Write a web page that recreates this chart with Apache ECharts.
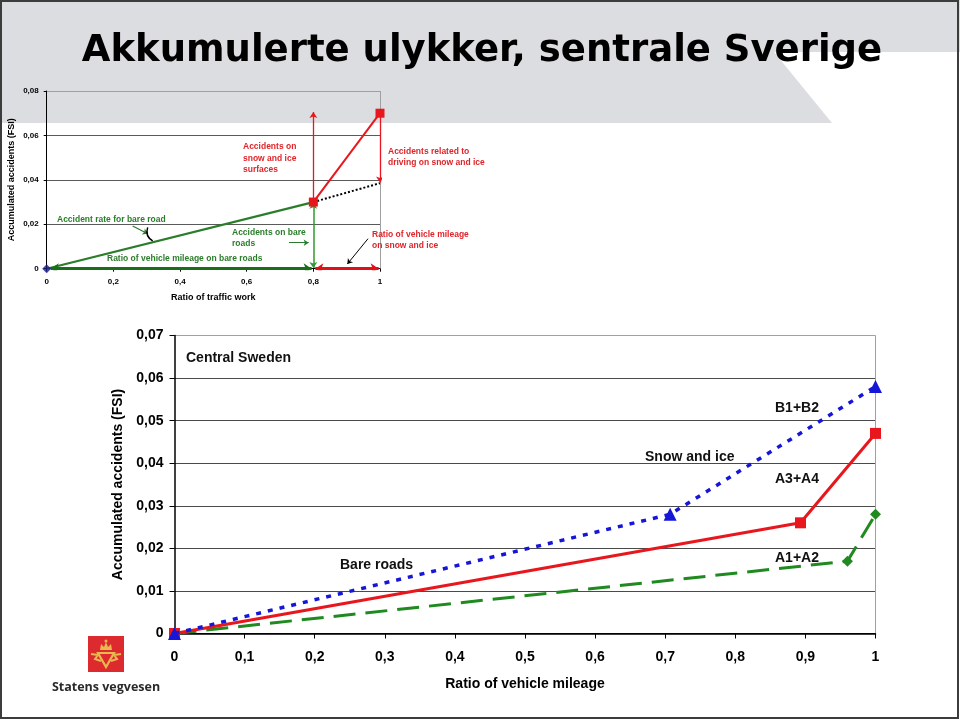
<!DOCTYPE html>
<html><head><meta charset="utf-8">
<script src="https://cdn.jsdelivr.net/npm/echarts/dist/echarts.min.js"></script>
<style>html,body{margin:0;padding:0;background:#fff}#c{width:960px;height:720px}</style>
</head><body><div id="c"></div>
<script>
// ---------- DATA ----------
// Top (schematic) chart
const topXTicks = [0, 0.2, 0.4, 0.6, 0.8, 1];
const topYTicks = [0, 0.02, 0.04, 0.06, 0.08];
const topBareRoad = [[0, 0], [0.8, 0.03]];
const topSnowIce = [[0.8, 0.03], [1, 0.07]];
const topExtrapolated = [[0.8, 0.03], [1, 0.0385]];
const topOrigin = [[0, 0]];
const arrowSnowSurface = [[0.8, 0.031], [0.8, 0.0705]];
const arrowSnowDriving = [[1, 0.069], [1, 0.0388]];
const arrowBareAccidents = [[0.8, 0.0003], [0.8, 0.0297]];
const arrowBareMileage = [[0.012, 0], [0.795, 0]];
const arrowSnowMileage = [[0.806, 0], [0.996, 0]];
const pointerRate = [[0.258, 0.0192], [0.303, 0.0157]];
const pointerBareAcc = [[0.727, 0.0117], [0.786, 0.0117]];
const pointerSnowMileage = [[0.964, 0.0135], [0.902, 0.0021]];
const bracketRate = [[0.303, 0.0186], [0.318, 0.0125]];

// Bottom chart
const botXTicks = [0, 0.1, 0.2, 0.3, 0.4, 0.5, 0.6, 0.7, 0.8, 0.9, 1];
const botYTicks = [0, 0.01, 0.02, 0.03, 0.04, 0.05, 0.06, 0.07];
const seriesB1B2 = [[0, 0], [0.707, 0.028], [1, 0.058]];
const seriesA3A4 = [[0, 0], [0.893, 0.026], [1, 0.047]];
const seriesA1A2 = [[0, 0], [0.96, 0.017], [1, 0.028]];

// ---------- HELPERS ----------
const fmt = (v, d) => v === 0 ? '0' : (v === 1 ? '1' : v.toFixed(d).replace('.', ','));
const AR = 'Liberation Sans, Arial, sans-serif';
const GREEN = '#2a7d2a', GREEN_L = '#2f9a2f', RED = '#e8171d', RED_T = '#e0242a';
const BLUE = '#1616d8', GREEN_B = '#1f8a1f';

function arrowSeries(coords, color, width, symbols, size) {
  return {
    type: 'lines', coordinateSystem: 'cartesian2d', xAxisIndex: 0, yAxisIndex: 0,
    silent: true, symbol: symbols, symbolSize: size, z: 4,
    lineStyle: { color: color, width: width, opacity: 1, type: 'solid' },
    data: [{ coords: coords }]
  };
}
function txt(x, y, s, size, color, extra) {
  return Object.assign({
    type: 'text', x: x, y: y, z: 50,
    style: { text: s, fontSize: size, fontWeight: 'bold', fontFamily: AR, fill: color, textVerticalAlign: 'middle' }
  }, extra || {});
}

const chart = echarts.init(document.getElementById('c'), null, { renderer: 'canvas' });

const gold = '#e9b84e';
const option = {
  backgroundColor: '#fff',
  animation: false,
  grid: [
    { left: 46.7, right: 580, top: 91, bottom: 451.3, containLabel: false },
    { left: 174.5, right: 84.5, top: 335.5, bottom: 86.5, containLabel: false }
  ],
  xAxis: [
    {
      gridIndex: 0, type: 'value', min: topXTicks[0], max: topXTicks[topXTicks.length - 1], interval: 0.2,
      name: 'Ratio of traffic work', nameLocation: 'middle', nameGap: 24,
      nameTextStyle: { fontSize: 9, fontWeight: 'bold', fontFamily: AR, color: '#000' },
      axisLine: { lineStyle: { color: '#000', width: 1 } },
      axisTick: { show: true, length: 3, lineStyle: { color: '#000' } },
      axisLabel: { fontSize: 8, fontWeight: 'bold', fontFamily: AR, color: '#000', margin: 9, formatter: v => fmt(v, 1) },
      splitLine: { show: true, lineStyle: { color: ['rgba(0,0,0,0)', 'rgba(0,0,0,0)', 'rgba(0,0,0,0)', 'rgba(0,0,0,0)', 'rgba(0,0,0,0)', '#a0a0a0'], width: 1 } }
    },
    {
      gridIndex: 1, type: 'value', min: botXTicks[0], max: botXTicks[botXTicks.length - 1], interval: 0.1,
      name: 'Ratio of vehicle mileage', nameLocation: 'middle', nameGap: 44,
      nameTextStyle: { fontSize: 14, fontWeight: 'bold', fontFamily: AR, color: '#000' },
      axisLine: { lineStyle: { color: '#000', width: 1.5 } },
      axisTick: { show: true, length: 5, lineStyle: { color: '#000', width: 1 } },
      axisLabel: { fontSize: 14, fontWeight: 'bold', fontFamily: AR, color: '#000', margin: 17, formatter: v => fmt(v, 1) },
      splitLine: { show: true, lineStyle: { color: ['rgba(0,0,0,0)', 'rgba(0,0,0,0)', 'rgba(0,0,0,0)', 'rgba(0,0,0,0)', 'rgba(0,0,0,0)', 'rgba(0,0,0,0)', 'rgba(0,0,0,0)', 'rgba(0,0,0,0)', 'rgba(0,0,0,0)', 'rgba(0,0,0,0)', '#a0a0a0'], width: 1 } }
    }
  ],
  yAxis: [
    {
      gridIndex: 0, type: 'value', min: topYTicks[0], max: topYTicks[topYTicks.length - 1], interval: 0.02,
      name: 'Accumulated accidents (FSI)', nameLocation: 'middle', nameGap: 31, nameRotate: 90,
      nameTextStyle: { fontSize: 9, fontWeight: 'bold', fontFamily: AR, color: '#000' },
      axisLine: { show: true, lineStyle: { color: '#000', width: 1 } },
      axisTick: { show: true, length: 3, lineStyle: { color: '#000' } },
      axisLabel: { fontSize: 8, fontWeight: 'bold', fontFamily: AR, color: '#000', margin: 8, formatter: v => fmt(v, 2) },
      splitLine: { show: true, lineStyle: { color: ['#000', '#5a5a5a', '#5a5a5a', '#5a5a5a', '#a0a0a0'], width: 1 } }
    },
    {
      gridIndex: 1, type: 'value', min: botYTicks[0], max: botYTicks[botYTicks.length - 1], interval: 0.01,
      name: 'Accumulated accidents (FSI)', nameLocation: 'middle', nameGap: 48, nameRotate: 90,
      nameTextStyle: { fontSize: 14, fontWeight: 'bold', fontFamily: AR, color: '#000' },
      axisLine: { show: true, lineStyle: { color: '#000', width: 1.5 } },
      axisTick: { show: true, length: 5, lineStyle: { color: '#000' } },
      axisLabel: { fontSize: 14, fontWeight: 'bold', fontFamily: AR, color: '#000', margin: 11, formatter: v => fmt(v, 2) },
      splitLine: { show: true, lineStyle: { color: ['#000', '#4a4a4a', '#4a4a4a', '#4a4a4a', '#4a4a4a', '#4a4a4a', '#4a4a4a', '#a0a0a0'], width: 1.2 } }
    }
  ],
  series: [
    // ---- top chart ----
    { type: 'line', xAxisIndex: 0, yAxisIndex: 0, data: topExtrapolated, symbol: 'none', z: 3,
      lineStyle: { color: '#000', width: 2, type: [2, 2] } },
    { type: 'line', xAxisIndex: 0, yAxisIndex: 0, data: topBareRoad, symbol: 'none', z: 3,
      lineStyle: { color: GREEN, width: 2.2 } },
    arrowSeries(arrowBareAccidents, GREEN_L, 1.5, ['arrow', 'arrow'], 6),
    arrowSeries(arrowSnowSurface, RED, 1.3, ['none', 'arrow'], 6),
    arrowSeries(arrowSnowDriving, RED, 1.3, ['none', 'arrow'], 6),
    arrowSeries(arrowBareMileage, '#1a6e1a', 3, ['arrow', 'arrow'], 8),
    arrowSeries(arrowSnowMileage, '#e01018', 3, ['arrow', 'arrow'], 8),
    arrowSeries(pointerRate, GREEN, 1.2, ['none', 'arrow'], 5),
    arrowSeries(pointerBareAcc, GREEN, 1.2, ['none', 'arrow'], 5),
    arrowSeries(pointerSnowMileage, '#000', 1, ['none', 'arrow'], 5),
    { type: 'lines', coordinateSystem: 'cartesian2d', xAxisIndex: 0, yAxisIndex: 0, silent: true, z: 4,
      lineStyle: { color: '#000', width: 1.5, curveness: -0.4, opacity: 1 }, data: [{ coords: bracketRate }] },
    { type: 'line', xAxisIndex: 0, yAxisIndex: 0, data: topSnowIce, symbol: 'rect', symbolSize: 9, z: 5,
      lineStyle: { color: RED, width: 2 }, itemStyle: { color: RED } },
    { type: 'scatter', xAxisIndex: 0, yAxisIndex: 0, data: topOrigin, symbol: 'diamond', symbolSize: 9, z: 6,
      itemStyle: { color: '#1b1b8a' } },
    // ---- bottom chart ----
    { name: 'A1+A2', type: 'line', xAxisIndex: 1, yAxisIndex: 1, data: seriesA1A2, symbol: 'diamond', symbolSize: 11, z: 3,
      lineStyle: { color: GREEN_B, width: 3, type: [22, 10] }, itemStyle: { color: GREEN_B } },
    { name: 'A3+A4', type: 'line', xAxisIndex: 1, yAxisIndex: 1, data: seriesA3A4, symbol: 'rect', symbolSize: 11, z: 4,
      lineStyle: { color: RED, width: 3 }, itemStyle: { color: RED } },
    { name: 'B1+B2', type: 'line', xAxisIndex: 1, yAxisIndex: 1, data: seriesB1B2, symbol: 'triangle', symbolSize: 13, z: 5,
      lineStyle: { color: BLUE, width: 3.5, type: [5, 7] }, itemStyle: { color: BLUE } }
  ],
  graphic: [
    // background band and frame
    { type: 'polygon', z: -10, silent: true,
      shape: { points: [[0, 0], [960, 0], [960, 52], [774, 52], [832, 123], [0, 123]] },
      style: { fill: '#dcdde0' } },
    { type: 'rect', z: 100, silent: true, shape: { x: 1, y: 1, width: 957, height: 717 },
      style: { fill: 'none', stroke: '#3c3c3c', lineWidth: 2 } },
    // title
    { type: 'text', x: 482, y: 51, z: 50,
      style: { text: 'Akkumulerte ulykker, sentrale Sverige', fontSize: 37, fontWeight: 'bold',
        fontFamily: 'DejaVu Sans, sans-serif', fill: '#000',
        textAlign: 'center', textVerticalAlign: 'middle' } },
    // top chart annotations
    txt(57, 220, 'Accident rate for bare road', 8.5, GREEN),
    txt(232, 233, 'Accidents on bare', 8.5, GREEN),
    txt(232, 244, 'roads', 8.5, GREEN),
    txt(107, 259, 'Ratio of vehicle mileage on bare roads', 8.5, GREEN),
    txt(243, 147, 'Accidents on', 8.5, RED_T),
    txt(243, 159, 'snow and ice', 8.5, RED_T),
    txt(243, 170, 'surfaces', 8.5, RED_T),
    txt(388, 152, 'Accidents related to', 8.5, RED_T),
    txt(388, 163, 'driving on snow and ice', 8.5, RED_T),
    txt(372, 235, 'Ratio of vehicle mileage', 8.5, RED_T),
    txt(372, 246, 'on snow and ice', 8.5, RED_T),
    // bottom chart annotations
    txt(186, 358, 'Central Sweden', 14, '#111'),
    txt(775, 408, 'B1+B2', 14, '#111'),
    txt(645, 457, 'Snow and ice', 14, '#111'),
    txt(775, 479, 'A3+A4', 14, '#111'),
    txt(775, 558, 'A1+A2', 14, '#111'),
    txt(340, 565, 'Bare roads', 14, '#111'),
    // logo
    { type: 'rect', z: 20, silent: true, shape: { x: 88, y: 636, width: 36, height: 36 }, style: { fill: '#dc2a2e' } },
    { type: 'polygon', z: 21, silent: true, shape: { points: [[100, 650], [101, 644], [104, 647], [106, 642], [108, 647], [111, 644], [112, 650]] }, style: { fill: gold } },
    { type: 'circle', z: 21, silent: true, shape: { cx: 106, cy: 641, r: 1.5 }, style: { fill: gold } },
    { type: 'polygon', z: 21, silent: true, shape: { points: [[98, 653], [114, 653], [106, 667]] }, style: { fill: 'none', stroke: gold, lineWidth: 2.2 } },
    { type: 'polyline', z: 21, silent: true, shape: { points: [[91, 654], [98, 655], [95, 659], [101, 661]] }, style: { stroke: gold, lineWidth: 2, fill: 'none' } },
    { type: 'polyline', z: 21, silent: true, shape: { points: [[121, 654], [114, 655], [117, 659], [111, 661]] }, style: { stroke: gold, lineWidth: 2, fill: 'none' } },
    { type: 'text', x: 106, y: 687, z: 50,
      style: { text: 'Statens vegvesen', fontSize: 12.5, fontWeight: 'bold', fontFamily: 'Open Sans, sans-serif', fill: '#2a2a2a',
        textAlign: 'center', textVerticalAlign: 'middle' } }
  ]
};
chart.setOption(option);
</script>
</body></html>
